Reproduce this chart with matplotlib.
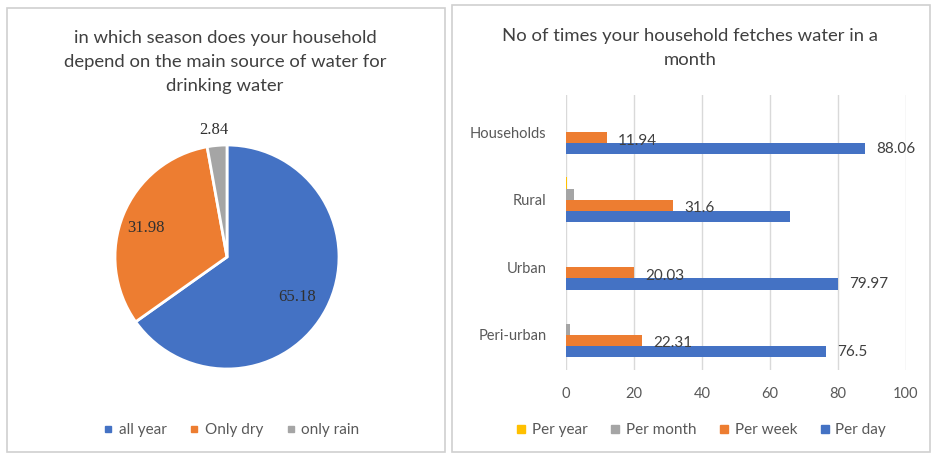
import matplotlib.pyplot as plt
from matplotlib.patches import Rectangle
from matplotlib.lines import Line2D
import numpy as np

plt.rcParams['font.family'] = ['Lato', 'DejaVu Sans']

# pie data
season_labels = ['all year', 'Only dry', 'only rain']
season_values = [65.18, 31.98, 2.84]
season_colors = ['#4472C4', '#ED7D31', '#A5A5A5']

# bar data
places = ['Households', 'Rural', 'Urban', 'Peri-urban']
series = ['Per year', 'Per month', 'Per week', 'Per day']
per_year = [0, 0.3, 0, 0]
per_month = [0, 2.3, 0, 1.19]
per_week = [11.94, 31.6, 20.03, 22.31]
per_day = [88.06, 66.0, 79.97, 76.5]
week_labels = ['11.94', '31.6', '20.03', '22.31']
day_labels = ['88.06', None, '79.97', '76.5']
series_colors = ['#FFC000', '#A5A5A5', '#ED7D31', '#4472C4']

W, H = 933, 454
fig = plt.figure(figsize=(W / 100, H / 100), dpi=100)


def fx(px):
    return px / W


def fy(py):
    return 1 - py / H


# panel borders
fig.patches.append(Rectangle((fx(7), fy(452)), fx(438), 444 / H, transform=fig.transFigure,
                             fill=False, edgecolor='#D0D0D0', lw=1.2))
fig.patches.append(Rectangle((fx(452), fy(452)), fx(478), 447 / H, transform=fig.transFigure,
                             fill=False, edgecolor='#D0D0D0', lw=1.2))

# ---- pie ----
cx, cy, r = 227, 257, 112
ax1 = fig.add_axes([fx(cx - r), fy(cy + r), 2 * r / W, 2 * r / H])
wedges, _ = ax1.pie(season_values, colors=season_colors, startangle=90, counterclock=False,
                    radius=1, wedgeprops=dict(edgecolor='white', linewidth=2))
ax1.set_xlim(-1, 1)
ax1.set_ylim(-1, 1)
ax1.set_aspect('auto')
ax1.axis('off')

label_pos = [(0.63, -0.36), (-0.72, 0.26), (-0.12, 1.13)]
for (x, y), v in zip(label_pos, season_values):
    ax1.text(x, y, f'{v:.2f}', ha='center', va='center', fontsize=12,
             family='Liberation Serif', color='#303030')

fig.text(fx(225), fy(62), 'in which season does your household\ndepend on the main source of water for\ndrinking water',
         ha='center', va='center', fontsize=13.3, color='#404040', linespacing=1.6)

pie_handles = [Line2D([], [], marker='s', ls='', color=c, markersize=4) for c in season_colors]
fig.legend(pie_handles, season_labels, loc='center', bbox_to_anchor=(fx(230), fy(430)),
           ncol=3, frameon=False, fontsize=11, handletextpad=0.2, columnspacing=1.3,
           handlelength=1.0, labelcolor='#595959')

# ---- bars ----
ax2 = fig.add_axes([fx(566), fy(370), 340 / W, 275 / H])
ypos = np.arange(len(places))[::-1]
h = 0.165
all_series = [per_year, per_month, per_week, per_day]
for i, (vals, col) in enumerate(zip(all_series, series_colors)):
    off = (1.5 - i) * h
    ax2.barh(ypos + off, vals, height=h, color=col, zorder=3)

for y, v, lab in zip(ypos, per_week, week_labels):
    ax2.annotate(lab, (v, y - 0.5 * h), xytext=(8, -2), textcoords='offset points',
                 ha='left', va='center', fontsize=11, color='#404040', zorder=4)
for y, v, lab in zip(ypos, per_day, day_labels):
    if lab:
        ax2.annotate(lab, (v, y - 1.5 * h), xytext=(8, 0), textcoords='offset points',
                     ha='left', va='center', fontsize=11, color='#404040', zorder=4)

ax2.set_xlim(0, 100)
ax2.set_ylim(-0.52, 3.55)
ax2.set_xticks(range(0, 101, 20))
ax2.set_yticks(ypos)
ax2.set_yticklabels(places)
ax2.grid(axis='x', color='#D9D9D9', lw=1, zorder=0)
for s in ax2.spines.values():
    s.set_visible(False)
ax2.tick_params(length=0, labelsize=10.5, labelcolor='#595959')
ax2.tick_params(axis='x', pad=12)
ax2.tick_params(axis='y', pad=14)

fig.text(fx(690), fy(48), 'No of times your household fetches water in a\nmonth', ha='center', va='center',
         fontsize=13.3, color='#404040', linespacing=1.6)

bar_handles = [Line2D([], [], marker='s', ls='', color=c, markersize=6) for c in series_colors]
fig.legend(bar_handles, series, loc='center', bbox_to_anchor=(fx(700), fy(430)),
           ncol=4, frameon=False, fontsize=11, handletextpad=0.2, columnspacing=1.3,
           handlelength=1.0, labelcolor='#595959')

fig.savefig('out.png', dpi=100)
